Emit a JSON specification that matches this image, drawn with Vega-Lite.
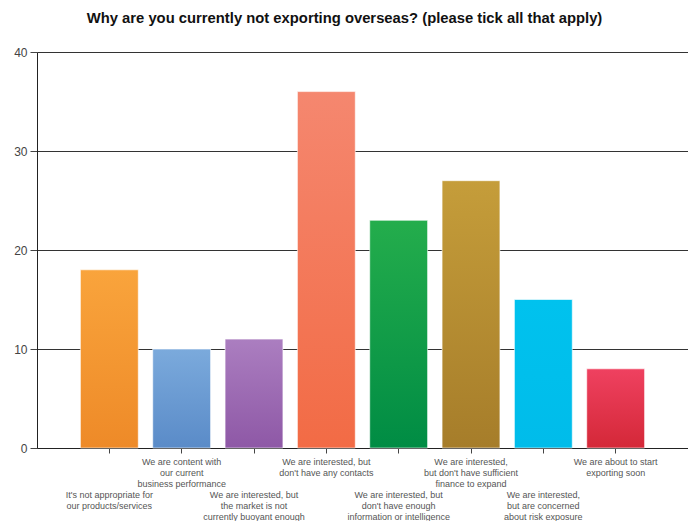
{
  "$schema": "https://vega.github.io/schema/vega-lite/v6.json",
  "width": 651,
  "height": 396,
  "autosize": {"type": "none"},
  "padding": {"left": 37, "top": 52, "right": 0, "bottom": 73},
  "background": "white",
  "title": {
    "text": "Why are you currently not exporting overseas? (please tick all that apply)",
    "font": "Liberation Sans",
    "fontSize": 14.8,
    "fontWeight": "bold",
    "color": "#111111",
    "anchor": "middle",
    "offset": 20,
    "dx": -18
  },
  "data": {
    "values": [
      {"reason": "It's not appropriate for\nour products/services", "count": 18},
      {"reason": "We are content with\nour current\nbusiness performance", "count": 10},
      {"reason": "We are interested, but\nthe market is not\ncurrently buoyant enough", "count": 11},
      {"reason": "We are interested, but\ndon't have any contacts", "count": 36},
      {"reason": "We are interested, but\ndon't have enough\ninformation or intelligence", "count": 23},
      {"reason": "We are interested,\nbut don't have sufficient\nfinance to expand", "count": 27},
      {"reason": "We are interested,\nbut are concerned\nabout risk exposure", "count": 15},
      {"reason": "We are about to start\nexporting soon", "count": 8}
    ]
  },
  "encoding": {
    "x": {
      "field": "reason",
      "type": "nominal",
      "sort": null,
      "scale": {"paddingInner": 0.2, "paddingOuter": 0.6},
      "axis": {
        "title": null,
        "labelAngle": 0,
        "labelExpr": "split(datum.label, '\\n')",
        "labelFont": "Liberation Sans",
        "labelFontSize": 9,
        "labelColor": "#555555",
        "labelLineHeight": 11,
        "labelBaseline": "top",
        "labelPadding": {"condition": {"test": "round(datum.index * 7) % 2 == 0", "value": 37}, "value": 4},
        "labelOverlap": false,
        "labelBound": false,
        "labelLimit": 0,
        "tickSize": 5,
        "tickColor": "#444444",
        "domainColor": "#222222"
      }
    },
    "y": {
      "field": "count",
      "type": "quantitative",
      "scale": {"domain": [0, 40]},
      "axis": {
        "title": null,
        "values": [0, 10, 20, 30, 40],
        "grid": true,
        "gridColor": "#333333",
        "gridWidth": 1.2,
        "domainColor": "#222222",
        "tickColor": "#444444",
        "tickSize": 7,
        "labelFont": "Liberation Sans",
        "labelFontSize": 12,
        "labelColor": "#444444",
        "labelPadding": 3
      }
    }
  },
  "layer": [
    {"transform": [{"filter": "datum.count == 18"}], "mark": {"type": "bar", "stroke": "#ffffff", "strokeOpacity": 0.6, "strokeWidth": 1, "color": {"gradient": "linear", "x1": 0, "y1": 0, "x2": 0, "y2": 1, "stops": [{"offset": 0, "color": "#F9A43C"}, {"offset": 1, "color": "#EE8A28"}]}}},
    {"transform": [{"filter": "datum.count == 10"}], "mark": {"type": "bar", "stroke": "#ffffff", "strokeOpacity": 0.6, "strokeWidth": 1, "color": {"gradient": "linear", "x1": 0, "y1": 0, "x2": 0, "y2": 1, "stops": [{"offset": 0, "color": "#7BAADC"}, {"offset": 1, "color": "#5A8BC8"}]}}},
    {"transform": [{"filter": "datum.count == 11"}], "mark": {"type": "bar", "stroke": "#ffffff", "strokeOpacity": 0.6, "strokeWidth": 1, "color": {"gradient": "linear", "x1": 0, "y1": 0, "x2": 0, "y2": 1, "stops": [{"offset": 0, "color": "#AB7EC0"}, {"offset": 1, "color": "#8E58A6"}]}}},
    {"transform": [{"filter": "datum.count == 36"}], "mark": {"type": "bar", "stroke": "#ffffff", "strokeOpacity": 0.6, "strokeWidth": 1, "color": {"gradient": "linear", "x1": 0, "y1": 0, "x2": 0, "y2": 1, "stops": [{"offset": 0, "color": "#F5876F"}, {"offset": 1, "color": "#F26B45"}]}}},
    {"transform": [{"filter": "datum.count == 23"}], "mark": {"type": "bar", "stroke": "#ffffff", "strokeOpacity": 0.6, "strokeWidth": 1, "color": {"gradient": "linear", "x1": 0, "y1": 0, "x2": 0, "y2": 1, "stops": [{"offset": 0, "color": "#24AD4C"}, {"offset": 1, "color": "#008C44"}]}}},
    {"transform": [{"filter": "datum.count == 27"}], "mark": {"type": "bar", "stroke": "#ffffff", "strokeOpacity": 0.6, "strokeWidth": 1, "color": {"gradient": "linear", "x1": 0, "y1": 0, "x2": 0, "y2": 1, "stops": [{"offset": 0, "color": "#C59D3A"}, {"offset": 1, "color": "#A67D2A"}]}}},
    {"transform": [{"filter": "datum.count == 15"}], "mark": {"type": "bar", "stroke": "#ffffff", "strokeOpacity": 0.6, "strokeWidth": 1, "color": {"gradient": "linear", "x1": 0, "y1": 0, "x2": 0, "y2": 1, "stops": [{"offset": 0, "color": "#00C2EE"}, {"offset": 1, "color": "#00BCEA"}]}}},
    {"transform": [{"filter": "datum.count == 8"}], "mark": {"type": "bar", "stroke": "#ffffff", "strokeOpacity": 0.6, "strokeWidth": 1, "color": {"gradient": "linear", "x1": 0, "y1": 0, "x2": 0, "y2": 1, "stops": [{"offset": 0, "color": "#EF4160"}, {"offset": 1, "color": "#D42838"}]}}}
  ],
  "config": {"view": {"stroke": null}}
}
